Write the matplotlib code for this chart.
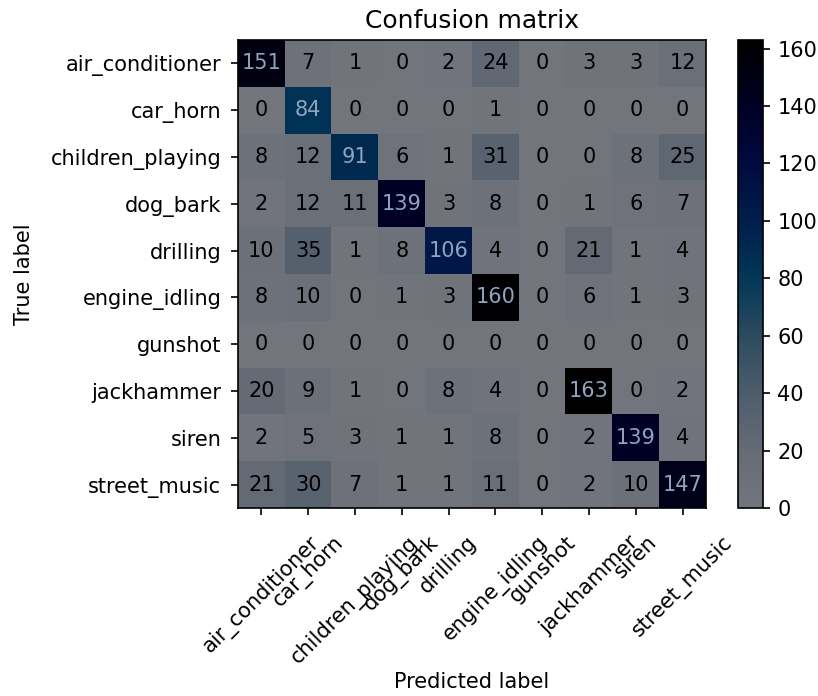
import numpy as np
import matplotlib
matplotlib.use("Agg")
import matplotlib.pyplot as plt
from matplotlib.colors import LinearSegmentedColormap

classes = ["air_conditioner", "car_horn", "children_playing", "dog_bark",
           "drilling", "engine_idling", "gunshot", "jackhammer", "siren",
           "street_music"]

row_air_conditioner = [151, 7, 1, 0, 2, 24, 0, 3, 3, 12]
row_car_horn = [0, 84, 0, 0, 0, 1, 0, 0, 0, 0]
row_children_playing = [8, 12, 91, 6, 1, 31, 0, 0, 8, 25]
row_dog_bark = [2, 12, 11, 139, 3, 8, 0, 1, 6, 7]
row_drilling = [10, 35, 1, 8, 106, 4, 0, 21, 1, 4]
row_engine_idling = [8, 10, 0, 1, 3, 160, 0, 6, 1, 3]
row_gunshot = [0, 0, 0, 0, 0, 0, 0, 0, 0, 0]
row_jackhammer = [20, 9, 1, 0, 8, 4, 0, 163, 0, 2]
row_siren = [2, 5, 3, 1, 1, 8, 0, 2, 139, 4]
row_street_music = [21, 30, 7, 1, 1, 11, 0, 2, 10, 147]

cm = np.array([row_air_conditioner, row_car_horn, row_children_playing,
               row_dog_bark, row_drilling, row_engine_idling, row_gunshot,
               row_jackhammer, row_siren, row_street_music])

cmap = LinearSegmentedColormap.from_list("slate", [
    (0.00, (0.45, 0.46, 0.49)),
    (0.12, (0.40, 0.42, 0.46)),
    (0.25, (0.30, 0.36, 0.42)),
    (0.37, (0.17, 0.29, 0.37)),
    (0.50, (0.00, 0.21, 0.34)),
    (0.62, (0.00, 0.11, 0.29)),
    (0.74, (0.00, 0.04, 0.25)),
    (0.86, (0.00, 0.00, 0.14)),
    (1.00, (0.00, 0.00, 0.00)),
])

FS = 15
plt.rcParams["font.family"] = "DejaVu Sans"
plt.rcParams["xtick.major.size"] = 5.25
plt.rcParams["ytick.major.size"] = 5.25
plt.rcParams["xtick.major.pad"] = 12
plt.rcParams["ytick.major.pad"] = 6.7
plt.rcParams["xtick.major.width"] = 1.2
plt.rcParams["ytick.major.width"] = 1.2
plt.rcParams["axes.linewidth"] = 1.2

fig = plt.figure(figsize=(8.18, 6.96), dpi=100)
ax = fig.add_axes([0.2897, 0.2701, 0.5746, 0.6724])
cax = fig.add_axes([0.902, 0.2701, 0.0306, 0.6724])

im = ax.imshow(cm, interpolation="nearest", cmap=cmap, vmin=0, vmax=cm.max())
ax.set_title("Confusion matrix", fontsize=18, pad=9)
cb = fig.colorbar(im, cax=cax)
cb.set_ticks(np.arange(0, 161, 20))
cb.ax.tick_params(labelsize=FS, pad=5.25)

ticks = np.arange(len(classes))
ax.set_xticks(ticks)
ax.set_xticklabels(classes, rotation=45, fontsize=FS)
ax.set_yticks(ticks)
ax.set_yticklabels(classes, fontsize=FS)

thresh = cm.max() / 2.0
for i in range(cm.shape[0]):
    for j in range(cm.shape[1]):
        ax.text(j, i, format(cm[i, j], "d"), ha="center", va="center",
                fontsize=FS,
                color="#8fa4bd" if cm[i, j] > thresh else "black")

ax.set_ylabel("True label", fontsize=FS, labelpad=12)
ax.set_xlabel("Predicted label", fontsize=FS, labelpad=3)

fig.savefig("out.png", dpi=100)
